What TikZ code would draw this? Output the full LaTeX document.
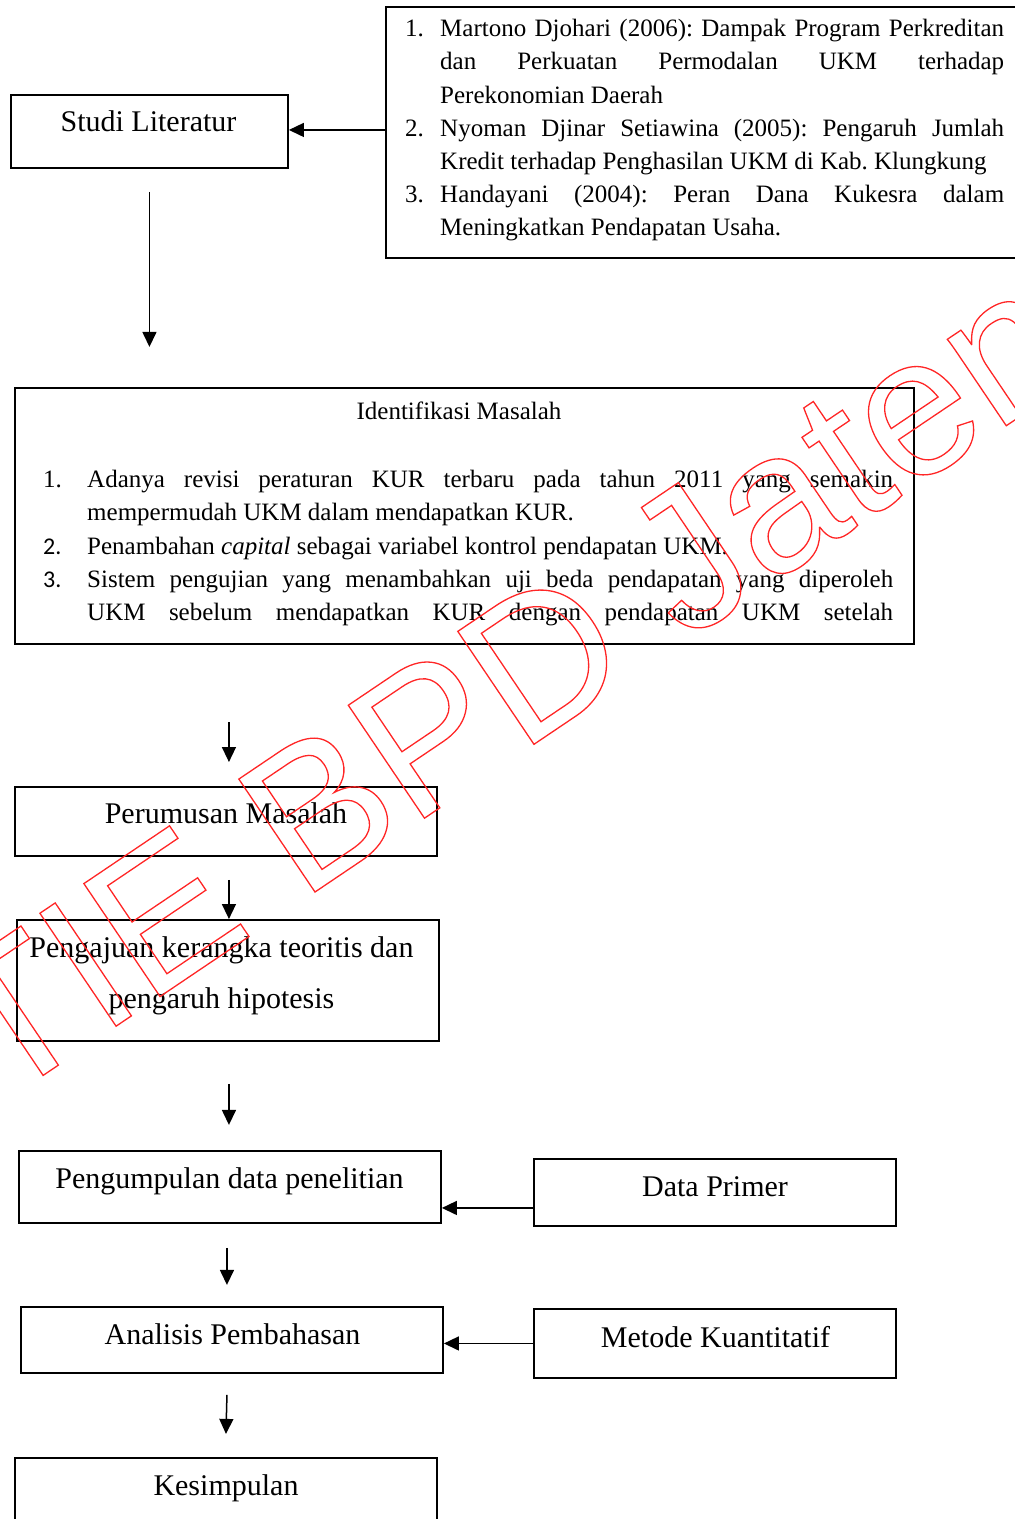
\documentclass[tikz,border=0pt]{standalone}
\usepackage{fontspec}
\setmainfont{Liberation Serif}
\newfontfamily\wmfont{Liberation Sans}
\newfontfamily\numsans{Carlito}
\usetikzlibrary{arrows.meta,calc}
\newcommand{\jline}[2]{\makebox[#1][s]{#2}}
\frenchspacing
\begin{document}
\begin{tikzpicture}[x=1pt,y=-1pt,
  box/.style={draw, line width=1.9pt, inner sep=0pt, rectangle, anchor=north west},
  lbl/.style={inner sep=0pt, anchor=base, font=\fontsize{30}{36}\selectfont},
  txt/.style={inner sep=0pt, anchor=base west, font=\fontsize{25}{33.3}\selectfont},
  arr/.style={line width=1.5pt, -{Triangle[length=15pt,width=14pt]}}]
\useasboundingbox (0,0) rectangle (1015,1519);

% boxes
\node[box, minimum width=635pt, minimum height=251pt] (lit) at (385,6) {};
\node[box, minimum width=277pt, minimum height=73pt] (studi) at (10,94) {};
\node[box, minimum width=899pt, minimum height=256pt] (ident) at (14,387) {};
\node[box, minimum width=422pt, minimum height=69pt] (rumus) at (14,786) {};
\node[box, minimum width=422pt, minimum height=121pt] (ajuan) at (16,919) {};
\node[box, minimum width=422pt, minimum height=72pt] (kumpul) at (18,1150) {};
\node[box, minimum width=362pt, minimum height=67pt] (primer) at (533,1158) {};
\node[box, minimum width=422pt, minimum height=66pt] (anal) at (20,1306) {};
\node[box, minimum width=362pt, minimum height=69pt] (metode) at (533,1308) {};
\node[box, minimum width=422pt, minimum height=90pt] (simpul) at (14,1457) {};

% labels
\node[lbl] (studiT) at (148.5,131) {Studi Literatur};
\node[lbl] (rumusT) at (226,823) {Perumusan Masalah};
\node[lbl] (ajuanT1) at (221.5,957) {Pengajuan kerangka teoritis dan};
\node[lbl] (ajuanT2) at (221.5,1008) {pengaruh hipotesis};
\node[lbl] (kumpulT) at (229.5,1188) {Pengumpulan data penelitian};
\node[lbl] (primerT) at (715,1196) {Data Primer};
\node[lbl] (analT) at (232.5,1344) {Analisis Pembahasan};
\node[lbl] (metodeT) at (715.5,1347) {Metode Kuantitatif};
\node[lbl] (simpulT) at (226,1495) {Kesimpulan};

% literature list
\node[txt] (n1) at (405,36.5) {1.};
\node[txt] (i1) at (440,36.5) {\parbox[t]{564pt}{\jline{564pt}{Martono Djohari (2006): Dampak Program Perkreditan}\\
  \jline{564pt}{dan Perkuatan Permodalan UKM terhadap}\\
  Perekonomian Daerah}};
\node[txt] (n2) at (405,136.1) {2.};
\node[txt] (i2) at (440,136.1) {\parbox[t]{564pt}{\jline{564pt}{Nyoman Djinar Setiawina (2005): Pengaruh Jumlah}\\
  Kredit terhadap Penghasilan UKM di Kab. Klungkung}};
\node[txt] (n3) at (405,202.5) {3.};
\node[txt] (i3) at (440,202.5) {\parbox[t]{564pt}{\jline{564pt}{Handayani (2004): Peran Dana Kukesra dalam}\\
  Meningkatkan Pendapatan Usaha.}};

% identifikasi
\node[txt, anchor=base] (identT) at (459,419.5) {Identifikasi Masalah};
\node[txt] (m1) at (43,487.3) {1.};
\node[txt] (j1) at (87,487.3) {\parbox[t]{806pt}{\jline{806pt}{Adanya revisi peraturan KUR terbaru pada tahun 2011 yang semakin}\\
  mempermudah UKM dalam mendapatkan KUR.}};
\node[txt] (m2) at (43,554) {\numsans\fontsize{24}{30}\selectfont 2.};
\node[txt] (j2) at (87,554) {Penambahan \textit{capital} sebagai variabel kontrol pendapatan UKM.};
\node[txt] (m3) at (43,587.4) {\numsans\fontsize{24}{30}\selectfont 3.};
\node[txt] (j3) at (87,587.4) {\parbox[t]{806pt}{\jline{806pt}{Sistem pengujian yang menambahkan uji beda pendapatan yang diperoleh}\\
  \jline{806pt}{UKM sebelum mendapatkan KUR dengan pendapatan UKM setelah}}};

% connectors
\coordinate (litA) at ($(lit.west)+(0,-2.5)$);
\draw[arr] (litA) -- (litA -| studi.east);
\coordinate (sA) at ($(studi.south)+(0,23)$);
\coordinate (sB) at ($(studi.south)+(0,178)$);
\draw[arr] (sA) -- (sB);
\coordinate (rA) at ($(rumus.north)+(3,-64)$);
\coordinate (rB) at ($(rumus.north)+(3,-24)$);
\draw[arr] (rA) -- (rB);
\coordinate (rC) at ($(rumus.south)+(3,23)$);
\draw[arr] (rC) -- (rC |- ajuan.north);
\coordinate (aA) at ($(ajuan.south)+(1,42)$);
\coordinate (aB) at ($(ajuan.south)+(1,83)$);
\draw[arr] (aA) -- (aB);
\coordinate (kA) at ($(kumpul.south)+(-3,24)$);
\coordinate (kB) at ($(kumpul.south)+(-3,61)$);
\draw[arr] (kA) -- (kB);
\coordinate (nA) at ($(anal.south)+(-5,21)$);
\coordinate (nB) at ($(anal.south)+(-6,60)$);
\draw[arr] (nA) -- (nB);
\coordinate (pA) at ($(primer.west)+(0,15.5)$);
\draw[arr] (pA) -- (pA -| kumpul.east);
\draw[arr] (metode.west) -- (metode.west -| anal.east);

% watermark (outlined text)
\node[rotate=34, anchor=base west, inner sep=0pt, text=red!85, font=\wmfont\fontsize{198}{200}\selectfont] (wm) at (-109,1178)
  {\special{pdf:literal direct 1 Tr 1.3 w}STIE BPD Jateng\special{pdf:literal direct 0 Tr}};
\end{tikzpicture}
\end{document}
